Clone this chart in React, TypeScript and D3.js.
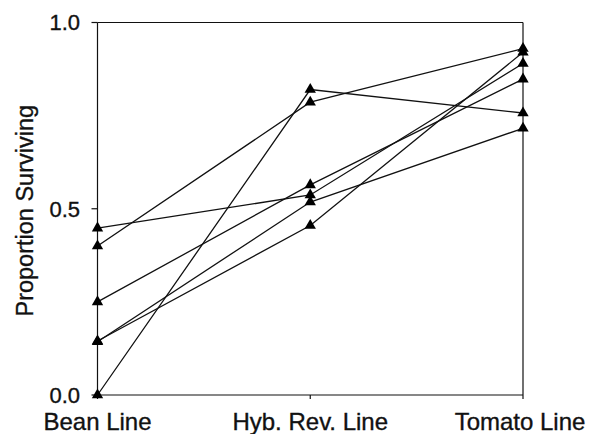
import React from 'react'
import * as d3 from 'd3'

const width = 592
const height = 434
const margin = { left: 97.5, top: 22.5, right: 69, bottom: 39 }

const categories = ['Bean Line', 'Hyb. Rev. Line', 'Tomato Line']
// one array per line, values at each category
const series = [
  [0.0, 0.82, 0.757],
  [0.4, 0.786, 0.93],
  [0.448, 0.537, 0.89],
  [0.25, 0.564, 0.848],
  [0.143, 0.518, 0.716],
  [0.145, 0.455, 0.92],
]
const yTicks = [0, 0.5, 1]

const x = d3
  .scalePoint<string>()
  .domain(categories)
  .range([margin.left, width - margin.right])
  .padding(0)

const y = d3
  .scaleLinear()
  .domain([0, 1])
  .range([height - margin.bottom, margin.top])

const line = d3
  .line<number>()
  .x((_, i) => x(categories[i]) as number)
  .y((d) => y(d))

const triangle = d3.symbol(d3.symbolTriangle, 56)()

export default function App() {
  const x0 = margin.left
  const x1 = width - margin.right
  const y0 = y(0)
  const y1 = y(1)
  // scanned text looks a bit heavy, so give it a thin stroke
  const textStyle = { fill: '#111', stroke: '#111', strokeWidth: 0.35 }
  return (
    <svg
      width={width}
      height={height}
      style={{ position: 'absolute', left: 0, top: 0, background: 'white' }}
      fontFamily="'Liberation Sans', Arial, sans-serif"
    >
      {/* frame */}
      <g stroke="#111" strokeWidth={1.2} fill="none">
        <line x1={x0} x2={x1} y1={y1} y2={y1} />
        <line x1={x0} x2={x1} y1={y0} y2={y0} />
        <line x1={x0} x2={x0} y1={y1} y2={y0} />
        <line x1={x1} x2={x1} y1={y1} y2={y0} />
        {yTicks.map((t) => (
          <line key={t} x1={x0 - 6} x2={x0} y1={y(t)} y2={y(t)} />
        ))}
        {categories.map((c) => (
          <line key={c} x1={x(c)} x2={x(c)} y1={y0} y2={y0 + 4} />
        ))}
      </g>
      {yTicks.map((t) => (
        <text
          key={t}
          x={80}
          y={y(t)}
          dy="0.36em"
          textAnchor="end"
          fontSize={22}
          style={textStyle}
        >
          {d3.format('.1f')(t)}
        </text>
      ))}
      {categories.map((c) => (
        <text
          key={c}
          x={c === 'Tomato Line' ? (x(c) as number) - 3 : x(c)}
          y={430}
          textAnchor="middle"
          fontSize={24}
          style={textStyle}
        >
          {c}
        </text>
      ))}
      <text
        transform={`translate(33,${(y0 + y1) / 2 + 2}) rotate(-90)`}
        textAnchor="middle"
        fontSize={23.5}
        style={textStyle}
      >
        Proportion Surviving
      </text>
      {/* lines */}
      {series.map((s, i) => (
        <path key={i} d={line(s) || ''} fill="none" stroke="#111" strokeWidth={1.3} />
      ))}
      {series.map((s, i) =>
        s.map((v, j) => (
          <path
            key={`${i}-${j}`}
            d={triangle || ''}
            transform={`translate(${x(categories[j])},${y(v)})`}
            fill="#000"
          />
        ))
      )}
    </svg>
  )
}
